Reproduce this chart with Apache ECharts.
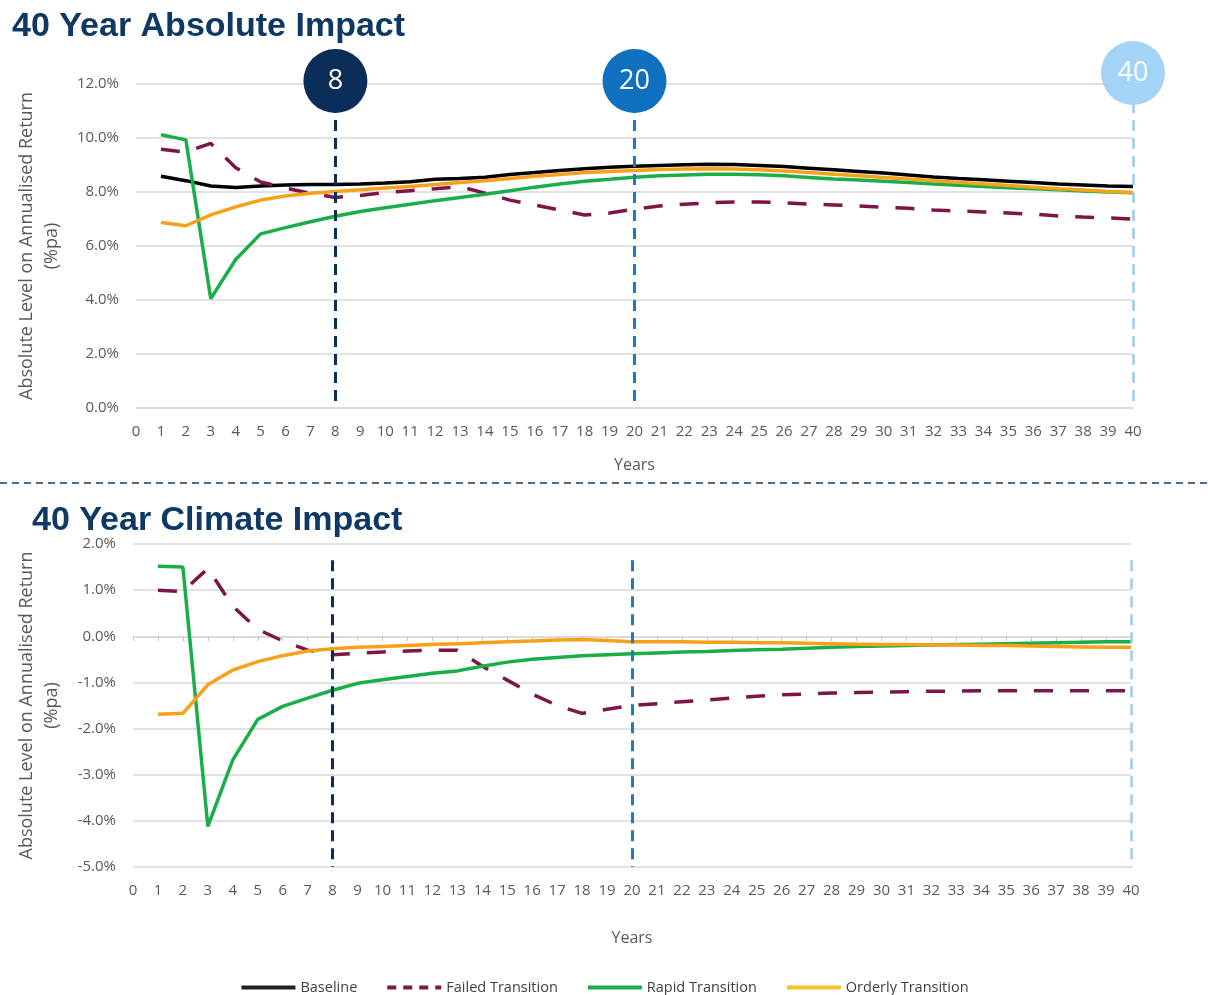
<!DOCTYPE html>
<html>
<head>
<meta charset="utf-8">
<script src="https://cdn.jsdelivr.net/npm/echarts@6/dist/echarts.min.js"></script>
<style>html,body{margin:0;padding:0;background:#fff}#c{width:1208px;height:995px}</style>
</head>
<body>
<div id="c"></div>
<script>
// ---------- DATA ----------
const years = [1,2,3,4,5,6,7,8,9,10,11,12,13,14,15,16,17,18,19,20,21,22,23,24,25,26,27,28,29,30,31,32,33,34,35,36,37,38,39,40];
const seriesNames = ['Baseline', 'Failed Transition', 'Rapid Transition', 'Orderly Transition'];

// Absolute impact (% pa)
const absBaseline = [8.58,8.42,8.22,8.17,8.22,8.26,8.28,8.28,8.30,8.33,8.38,8.47,8.50,8.55,8.65,8.72,8.80,8.86,8.92,8.95,8.98,9.01,9.03,9.02,8.98,8.94,8.88,8.82,8.76,8.70,8.63,8.56,8.50,8.45,8.40,8.35,8.30,8.26,8.22,8.20];
const absFailed   = [9.58,9.48,9.80,8.90,8.37,8.15,7.95,7.80,7.87,7.98,8.05,8.12,8.20,7.96,7.70,7.52,7.33,7.15,7.22,7.37,7.48,7.55,7.60,7.63,7.63,7.60,7.55,7.52,7.48,7.43,7.40,7.33,7.30,7.26,7.22,7.18,7.11,7.07,7.04,7.00];
const absRapid    = [10.12,9.93,4.05,5.50,6.45,6.68,6.90,7.10,7.28,7.42,7.55,7.68,7.80,7.92,8.05,8.18,8.30,8.40,8.47,8.55,8.60,8.63,8.66,8.66,8.64,8.60,8.54,8.48,8.44,8.40,8.35,8.30,8.25,8.20,8.16,8.12,8.08,8.04,8.00,7.97];
const absOrderly  = [6.87,6.75,7.15,7.45,7.70,7.85,7.95,8.02,8.08,8.15,8.20,8.28,8.35,8.42,8.50,8.58,8.65,8.72,8.76,8.80,8.83,8.85,8.86,8.85,8.82,8.78,8.72,8.66,8.60,8.54,8.48,8.42,8.36,8.30,8.24,8.18,8.12,8.07,8.02,7.98];

// Climate impact (% pa)
const cliFailed   = [1.00,0.97,1.47,0.65,0.15,-0.10,-0.30,-0.40,-0.37,-0.34,-0.32,-0.30,-0.30,-0.65,-0.95,-1.25,-1.50,-1.67,-1.58,-1.50,-1.46,-1.42,-1.38,-1.34,-1.30,-1.27,-1.25,-1.23,-1.22,-1.21,-1.20,-1.19,-1.19,-1.18,-1.18,-1.18,-1.18,-1.18,-1.18,-1.18];
const cliRapid    = [1.52,1.50,-4.12,-2.68,-1.80,-1.52,-1.34,-1.17,-1.02,-0.94,-0.87,-0.80,-0.75,-0.65,-0.56,-0.50,-0.46,-0.42,-0.40,-0.38,-0.36,-0.34,-0.33,-0.31,-0.29,-0.28,-0.26,-0.24,-0.22,-0.21,-0.20,-0.19,-0.18,-0.17,-0.16,-0.15,-0.14,-0.13,-0.12,-0.12];
const cliOrderly  = [-1.69,-1.67,-1.05,-0.73,-0.55,-0.42,-0.32,-0.27,-0.24,-0.22,-0.20,-0.18,-0.16,-0.14,-0.12,-0.10,-0.08,-0.07,-0.09,-0.12,-0.12,-0.12,-0.13,-0.13,-0.14,-0.14,-0.15,-0.16,-0.17,-0.18,-0.18,-0.19,-0.19,-0.20,-0.20,-0.21,-0.22,-0.23,-0.24,-0.24];

// Milestones
const milestoneYears  = [8, 20, 40];
const milestoneLabels = ['8', '20', '40'];

// Axis ranges / ticks
const absYMin = 0, absYMax = 12, absYStep = 2;
const cliYMin = -5, cliYMax = 2, cliYStep = 1;
const xMin = 0, xMax = 40, xStep = 1;
const cliMarkerTop = 1.65;

// ---------- STYLES ----------
const lineColors = { 'Baseline': '#000000', 'Failed Transition': '#7d1646', 'Rapid Transition': '#1aae48', 'Orderly Transition': '#f5a21a' };
const legendColors = { 'Baseline': '#222222', 'Failed Transition': '#7d1646', 'Rapid Transition': '#1aae48', 'Orderly Transition': '#f7c02a' };
const milestoneCircleColors = ['#0c2d57', '#1070c0', '#a3d3f7'];
const milestoneLineColors = ['#0c2d57', '#1f77c8', '#9dcbef'];
const milestoneOffsets = [-3, -3, -11];
const axisFont = "'Open Sans', 'Liberation Sans', sans-serif";
const gridColor = '#d9d9d9';
const textGray = '#595959';

function pairs(arr) { return years.map((y, i) => [y, arr[i]]); }

function lineSeries(name, arr, gi) {
  return {
    name: name, type: 'line', xAxisIndex: gi === 0 ? 0 : 1, yAxisIndex: gi,
    data: pairs(arr), showSymbol: false, symbol: 'none', smooth: false,
    lineStyle: { color: lineColors[name], width: 3.5, type: name === 'Failed Transition' ? [19, 17] : 'solid', cap: 'butt' },
    itemStyle: { color: legendColors[name] },
    z: 2
  };
}

function xAxisBase(gi, nameGap) {
  return {
    gridIndex: gi, type: 'value', min: xMin, max: xMax, interval: xStep,
    name: 'Years', nameLocation: 'middle', nameGap: nameGap,
    nameTextStyle: { color: textGray, fontSize: 16, fontFamily: axisFont },
    axisLabel: { color: textGray, fontSize: 15, margin: 16, fontFamily: axisFont },
    axisTick: { show: false }, splitLine: { show: false }
  };
}

function yAxisBase(gi, mn, mx, step, nameGap) {
  return {
    gridIndex: gi, type: 'value', min: mn, max: mx, interval: step,
    name: 'Absolute Level on Annualised Return\n(%pa)', nameLocation: 'middle', nameRotate: 90, nameGap: nameGap,
    nameTextStyle: { color: textGray, fontSize: 18, fontFamily: axisFont, lineHeight: 25, align: 'center' },
    axisLabel: { color: textGray, fontSize: 15, margin: 17, fontFamily: axisFont, formatter: v => v.toFixed(1) + '%' },
    axisLine: { show: false }, axisTick: { show: false },
    splitLine: { show: true, lineStyle: { color: gridColor, width: 1.5 } }
  };
}

const xa0 = xAxisBase(0, 49);
xa0.axisLine = { show: true, onZero: false, lineStyle: { color: gridColor, width: 1.5 } };
const xa1 = xAxisBase(1, 63);
xa1.axisLine = { show: false, onZero: false };
const xa2 = {
  gridIndex: 1, type: 'value', min: xMin, max: xMax, interval: xStep, position: 'bottom',
  axisLine: { show: true, onZero: true, onZeroAxisIndex: 1, lineStyle: { color: gridColor, width: 1.5 } },
  axisTick: { show: true, length: 5, lineStyle: { color: '#c8c8c8', width: 1 } },
  axisLabel: { show: false }, splitLine: { show: false }
};

const dashStyle = { type: [11, 7], width: 3 };

const markerSeriesTop = {
  name: 'milestonesTop', type: 'line', xAxisIndex: 0, yAxisIndex: 0, data: [], clip: false, z: 5, silent: true,
  markLine: {
    symbol: ['none', 'none'], silent: true, label: { show: false },
    lineStyle: dashStyle,
    data: milestoneYears.map((yr, i) => [
      { coord: [yr, absYMax], lineStyle: { color: milestoneLineColors[i], type: [11, 7], width: yr === 40 ? 2.5 : 3 } },
      { coord: [yr, absYMin] }
    ])
  },
  markPoint: {
    silent: true,
    data: milestoneYears.map((yr, i) => ({
      coord: [yr, absYMax], symbol: 'circle', symbolSize: 64, symbolOffset: [0, milestoneOffsets[i]],
      itemStyle: { color: milestoneCircleColors[i] },
      label: { show: true, position: 'inside', formatter: milestoneLabels[i], color: '#fff', fontSize: 27, fontFamily: axisFont }
    }))
  }
};

const markerSeriesBottom = {
  name: 'milestonesBottom', type: 'line', xAxisIndex: 1, yAxisIndex: 1, data: [], clip: false, z: 5, silent: true,
  markLine: {
    symbol: ['none', 'none'], silent: true, label: { show: false },
    lineStyle: dashStyle,
    data: milestoneYears.map((yr, i) => [
      { coord: [yr, cliMarkerTop], lineStyle: { color: milestoneLineColors[i], type: [11, 7], width: yr === 40 ? 2.5 : 3 } },
      { coord: [yr, cliYMin] }
    ])
  }
};

const legendItems = seriesNames.map(n => ({
  name: n,
  itemStyle: { opacity: 0 },
  lineStyle: { color: legendColors[n], width: 4, type: n === 'Failed Transition' ? [9, 7] : 'solid', opacity: 1 }
}));

const chart = echarts.init(document.getElementById('c'), null, { renderer: 'canvas' });
chart.setOption({
  animation: false,
  backgroundColor: '#fff',
  title: [
    { text: '40 Year Absolute Impact', left: 7, top: 5, textStyle: { color: '#0f3864', fontSize: 34, fontWeight: 'bold', fontFamily: "'Liberation Sans', Arial, sans-serif" } },
    { text: '40 Year Climate Impact', left: 27, top: 499, textStyle: { color: '#0f3864', fontSize: 34, fontWeight: 'bold', fontFamily: "'Liberation Sans', Arial, sans-serif" } }
  ],
  grid: [
    { left: 136, right: 75, top: 84, height: 324 },
    { left: 133, right: 77, top: 544, height: 323 }
  ],
  legend: {
    data: legendItems, left: 'center', top: 975,
    itemWidth: 54, itemHeight: 14, itemGap: 28,
    itemStyle: { opacity: 0 },
    textStyle: { color: '#404040', fontSize: 14.5, fontFamily: "'Liberation Sans Narrow', 'Open Sans', sans-serif" }
  },
  xAxis: [xa0, xa1, xa2],
  yAxis: [
    yAxisBase(0, absYMin, absYMax, absYStep, 72),
    yAxisBase(1, cliYMin, cliYMax, cliYStep, 69)
  ],
  graphic: [
    { type: 'line', shape: { x1: 0, y1: 483, x2: 1208, y2: 483 }, style: { stroke: '#1b3b66', lineWidth: 1.5, lineDash: [7, 5] }, silent: true }
  ],
  series: [
    lineSeries('Baseline', absBaseline, 0),
    lineSeries('Failed Transition', absFailed, 0),
    lineSeries('Rapid Transition', absRapid, 0),
    lineSeries('Orderly Transition', absOrderly, 0),
    lineSeries('Failed Transition', cliFailed, 1),
    lineSeries('Rapid Transition', cliRapid, 1),
    lineSeries('Orderly Transition', cliOrderly, 1),
    markerSeriesTop,
    markerSeriesBottom
  ]
});
</script>
</body>
</html>
